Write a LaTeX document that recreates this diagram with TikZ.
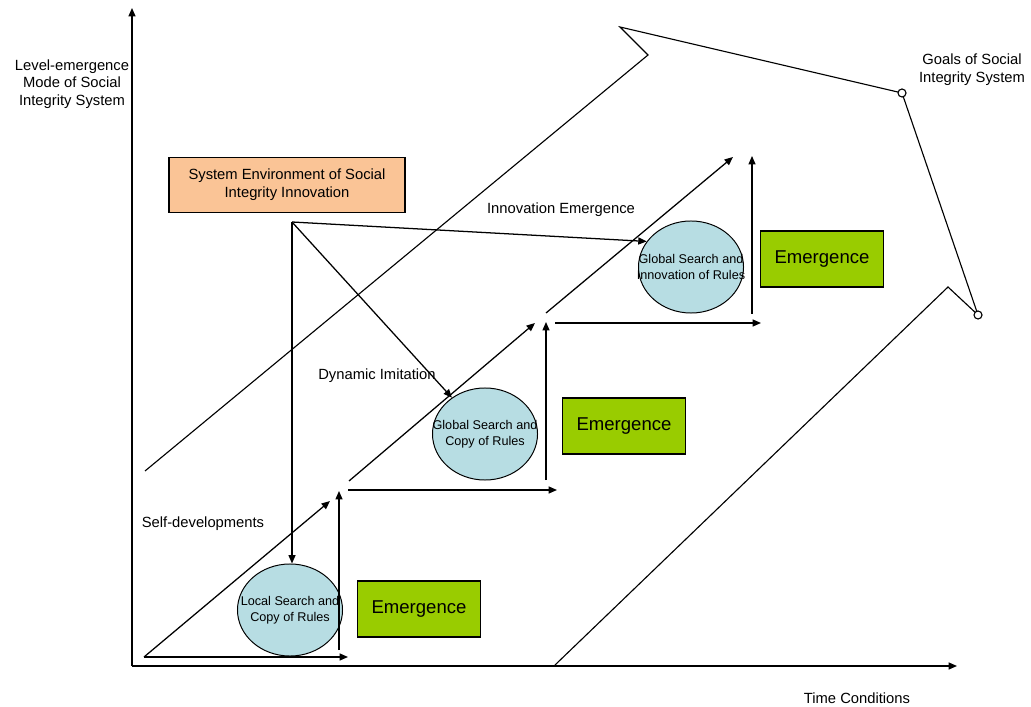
\documentclass[tikz,border=0pt]{standalone}
\usepackage{fontspec}
\setmainfont{Liberation Sans}
\usetikzlibrary{arrows.meta,shapes.geometric}
\definecolor{envorange}{HTML}{FAC496}
\definecolor{rulecyan}{HTML}{B7DDE3}
\definecolor{emgreen}{HTML}{99CC00}
\begin{document}
\begin{tikzpicture}[x=0.025cm,y=-0.025cm,line width=0.9pt,
  arr/.style={-{Triangle[length=6pt,width=5pt]}},
  rule/.style={draw,ellipse,fill=rulecyan,line width=0.7pt,minimum width=2.625cm,minimum height=2.3cm,inner sep=0pt},
  ruletext/.style={align=center,font=\fontsize{9}{11.4}\selectfont},
  emerg/.style={draw,fill=emgreen,line width=0.8pt,minimum width=3.075cm,minimum height=1.4cm,font=\fontsize{13.2}{15}\selectfont},
  lbl/.style={align=center,inner sep=0pt,font=\fontsize{10.5}{12.6}\selectfont}]
\useasboundingbox (0,0) rectangle (1031,707);
% axes
\coordinate (o) at (132,666);
\coordinate (ytop) at (132,8);
\coordinate (xend) at (957,666);
\draw[arr] (o) -- (ytop);
\draw[arr] (o) -- (xend);
\node[lbl] (ylab) at (72,84) {Level-emergence\\Mode of Social\\Integrity System};
\node[lbl] (xlab) at (857,698) {Time Conditions};
% big arrow outline
\coordinate (g1) at (902,93);
\coordinate (g2) at (978,315);
\draw[line width=0.8pt] (145,471) -- (648,55) -- (620,27) -- (g1) -- (g2) -- (948,287) -- (555,665);
\draw[line width=0.8pt,fill=white] (g1) circle[radius=0.1cm];
\draw[line width=0.8pt,fill=white] (g2) circle[radius=0.1cm];
\node[lbl] (goal) at (972,70) {Goals of Social\\Integrity System};
% environment
\node[draw,fill=envorange,line width=0.8pt,minimum width=5.9cm,minimum height=1.375cm,lbl,inner sep=2pt] (env) at (287,185) {System Environment of Social\\Integrity Innovation};
% rules
\node[rule,label={[ruletext]center:Local Search and\\Copy of Rules}] (loc) at (290,610) {};
\node[rule,label={[ruletext]center:Global Search and\\Copy of Rules}] (glob) at (485,434) {};
\node[rule,label={[ruletext]center:Global Search and\\Innovation of Rules}] (inno) at (691,267) {};
\node[emerg] (em1) at (419,609) {Emergence};
\node[emerg] (em2) at (624,426) {Emergence};
\node[emerg] (em3) at (822,259) {Emergence};
% steps
\draw[arr] (144,657) -- (348,657);
\draw[arr] (144,657) -- (330,501);
\draw[arr] (339,650) -- (339,491);
\draw[arr] (348,490) -- (557,490);
\draw[arr] (349,481) -- (535,323);
\draw[arr] (546,480) -- (546,322);
\draw[arr] (555,323) -- (761,323);
\draw[arr] (546,313) -- (733,157);
\draw[arr] (752,314) -- (752,156);
% influences
\coordinate (src) at (292,222);
\draw[arr] (src) -- (src |- loc.north);
\draw[arr] (src) -- (glob);
\draw[arr] (src) -- (inno.150);
\node[lbl] (selfdev) at (203,524) {Self-developments};
\node[lbl] (dynimit) at (377,376) {Dynamic Imitation};
\node[lbl] (innoem) at (561,210) {Innovation Emergence};
\end{tikzpicture}
\end{document}
